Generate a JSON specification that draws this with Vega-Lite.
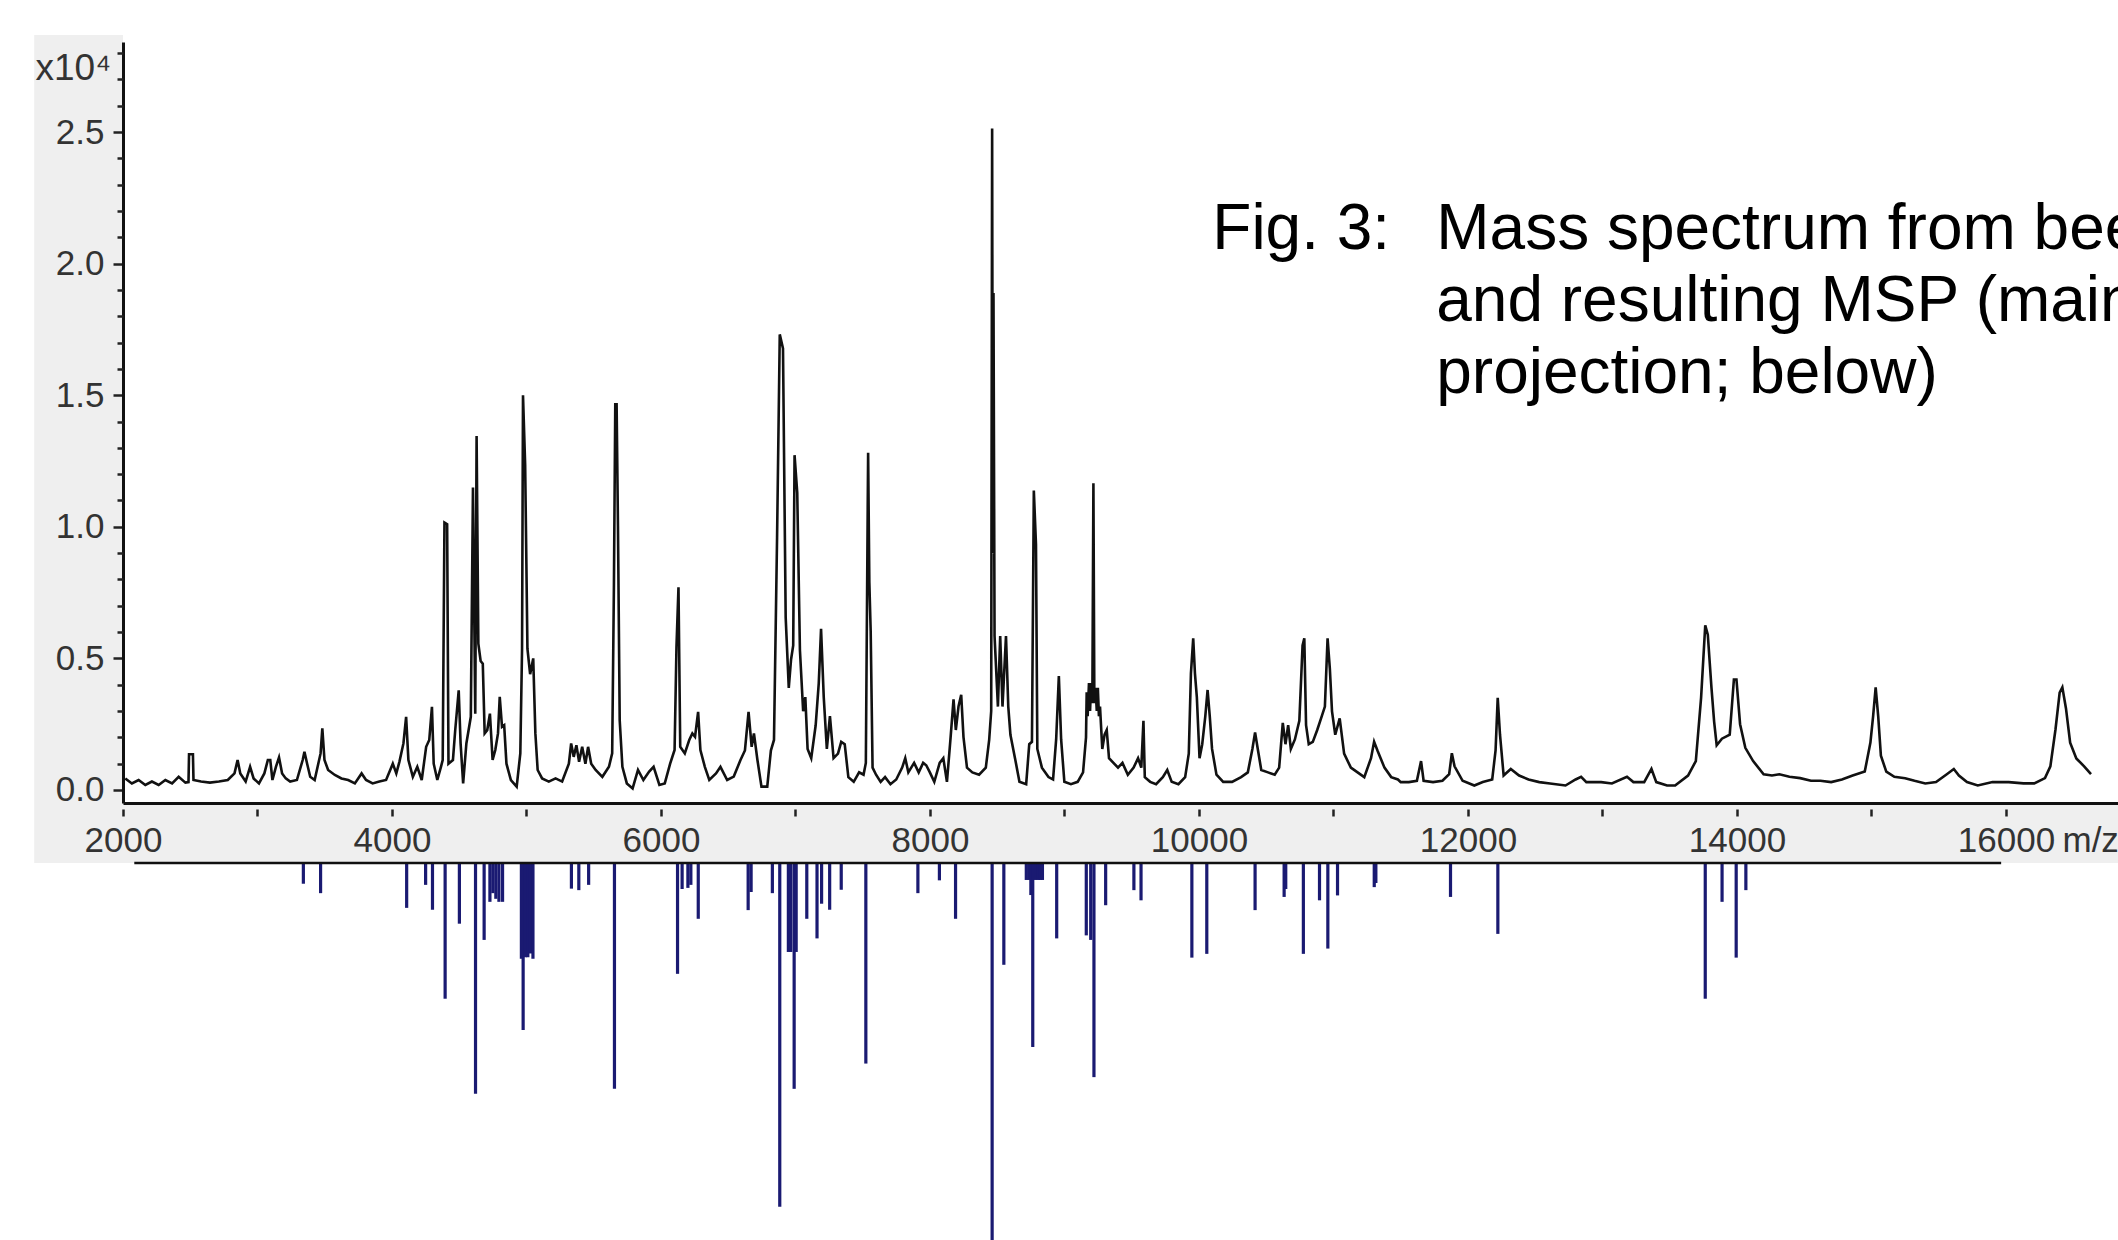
{
 "$schema": "https://vega.github.io/schema/vega-lite/v6.json",
 "usermeta": {"embedOptions": {"actions": false}},
 "background": "white",
 "padding": {"left": 34, "top": 35, "right": 0, "bottom": 0},
 "bounds": "flush",
 "spacing": 60,
 "config": {"view": {"stroke": null}, "font": "Liberation Sans"},
 "datasets": {
  "spectrum": [
   {"mz":2017,"intensity":0.044},{"mz":2066,"intensity":0.025},{"mz":2116,"intensity":0.038},{"mz":2166,"intensity":0.019},{"mz":2215,"intensity":0.032},{"mz":2265,"intensity":0.019},{"mz":2315,"intensity":0.038},{"mz":2365,"intensity":0.025},{"mz":2414,"intensity":0.05},{"mz":2464,"intensity":0.028},{"mz":2487,"intensity":0.03},{"mz":2491,"intensity":0.136},{"mz":2520,"intensity":0.136},{"mz":2524,"intensity":0.038},{"mz":2580,"intensity":0.032},{"mz":2646,"intensity":0.028},{"mz":2713,"intensity":0.032},{"mz":2779,"intensity":0.038},{"mz":2829,"intensity":0.063},{"mz":2852,"intensity":0.114},{"mz":2872,"intensity":0.063},{"mz":2912,"intensity":0.032},{"mz":2945,"intensity":0.088},{"mz":2971,"intensity":0.044},{"mz":3011,"intensity":0.025},{"mz":3051,"intensity":0.063},{"mz":3077,"intensity":0.114},{"mz":3095,"intensity":0.114},{"mz":3111,"intensity":0.038},{"mz":3137,"intensity":0.088},{"mz":3160,"intensity":0.124},{"mz":3183,"intensity":0.063},{"mz":3210,"intensity":0.044},{"mz":3243,"intensity":0.032},{"mz":3293,"intensity":0.038},{"mz":3336,"intensity":0.114},{"mz":3349,"intensity":0.145},{"mz":3369,"intensity":0.1},{"mz":3392,"intensity":0.05},{"mz":3425,"intensity":0.038},{"mz":3469,"intensity":0.139},{"mz":3482,"intensity":0.234},{"mz":3498,"intensity":0.114},{"mz":3525,"intensity":0.076},{"mz":3575,"intensity":0.057},{"mz":3624,"intensity":0.044},{"mz":3674,"intensity":0.038},{"mz":3724,"intensity":0.025},{"mz":3774,"intensity":0.063},{"mz":3807,"intensity":0.038},{"mz":3856,"intensity":0.025},{"mz":3906,"intensity":0.032},{"mz":3956,"intensity":0.038},{"mz":4006,"intensity":0.1},{"mz":4032,"intensity":0.063},{"mz":4055,"intensity":0.107},{"mz":4085,"intensity":0.177},{"mz":4105,"intensity":0.278},{"mz":4122,"intensity":0.114},{"mz":4155,"intensity":0.05},{"mz":4188,"intensity":0.088},{"mz":4221,"intensity":0.038},{"mz":4254,"intensity":0.164},{"mz":4277,"intensity":0.19},{"mz":4297,"intensity":0.316},{"mz":4310,"intensity":0.1},{"mz":4337,"intensity":0.038},{"mz":4364,"intensity":0.088},{"mz":4377,"intensity":0.114},{"mz":4390,"intensity":1.016},{"mz":4410,"intensity":1.01},{"mz":4420,"intensity":0.1},{"mz":4453,"intensity":0.114},{"mz":4470,"intensity":0.227},{"mz":4496,"intensity":0.379},{"mz":4510,"intensity":0.177},{"mz":4529,"intensity":0.025},{"mz":4553,"intensity":0.177},{"mz":4586,"intensity":0.278},{"mz":4602,"intensity":1.149},{"mz":4619,"intensity":0.29},{"mz":4629,"intensity":1.345},{"mz":4642,"intensity":0.556},{"mz":4659,"intensity":0.49},{"mz":4675,"intensity":0.48},{"mz":4689,"intensity":0.215},{"mz":4708,"intensity":0.227},{"mz":4728,"intensity":0.29},{"mz":4748,"intensity":0.114},{"mz":4768,"intensity":0.152},{"mz":4788,"intensity":0.215},{"mz":4801,"intensity":0.354},{"mz":4818,"intensity":0.24},{"mz":4834,"intensity":0.246},{"mz":4851,"intensity":0.1},{"mz":4884,"intensity":0.038},{"mz":4927,"intensity":0.013},{"mz":4954,"intensity":0.139},{"mz":4967,"intensity":0.537},{"mz":4974,"intensity":1.5},{"mz":4990,"intensity":1.237},{"mz":5007,"intensity":0.537},{"mz":5027,"intensity":0.44},{"mz":5050,"intensity":0.5},{"mz":5066,"intensity":0.215},{"mz":5083,"intensity":0.076},{"mz":5116,"intensity":0.044},{"mz":5166,"intensity":0.032},{"mz":5216,"intensity":0.044},{"mz":5265,"intensity":0.032},{"mz":5315,"intensity":0.1},{"mz":5332,"intensity":0.177},{"mz":5351,"intensity":0.126},{"mz":5371,"intensity":0.17},{"mz":5391,"intensity":0.107},{"mz":5414,"intensity":0.164},{"mz":5438,"intensity":0.1},{"mz":5458,"intensity":0.164},{"mz":5481,"intensity":0.1},{"mz":5514,"intensity":0.076},{"mz":5564,"intensity":0.05},{"mz":5613,"intensity":0.088},{"mz":5637,"intensity":0.139},{"mz":5650,"intensity":0.776},{"mz":5660,"intensity":1.465},{"mz":5670,"intensity":1.465},{"mz":5680,"intensity":1.004},{"mz":5693,"intensity":0.265},{"mz":5713,"intensity":0.088},{"mz":5746,"intensity":0.025},{"mz":5789,"intensity":0.006},{"mz":5829,"intensity":0.076},{"mz":5869,"intensity":0.038},{"mz":5912,"intensity":0.07},{"mz":5945,"intensity":0.088},{"mz":5988,"intensity":0.019},{"mz":6028,"intensity":0.025},{"mz":6068,"intensity":0.1},{"mz":6101,"intensity":0.152},{"mz":6115,"intensity":0.543},{"mz":6130,"intensity":0.77},{"mz":6143,"intensity":0.164},{"mz":6177,"intensity":0.139},{"mz":6210,"intensity":0.19},{"mz":6233,"intensity":0.215},{"mz":6253,"intensity":0.202},{"mz":6276,"intensity":0.297},{"mz":6293,"intensity":0.152},{"mz":6326,"intensity":0.088},{"mz":6359,"intensity":0.038},{"mz":6409,"intensity":0.063},{"mz":6442,"intensity":0.088},{"mz":6492,"intensity":0.038},{"mz":6541,"intensity":0.051},{"mz":6591,"intensity":0.114},{"mz":6624,"intensity":0.15},{"mz":6651,"intensity":0.297},{"mz":6674,"intensity":0.164},{"mz":6691,"intensity":0.215},{"mz":6717,"intensity":0.114},{"mz":6747,"intensity":0.013},{"mz":6790,"intensity":0.013},{"mz":6817,"intensity":0.15},{"mz":6840,"intensity":0.19},{"mz":6863,"intensity":0.96},{"mz":6883,"intensity":1.731},
   {"mz":6907,"intensity":1.678},{"mz":6927,"intensity":0.656},{"mz":6950,"intensity":0.388},{"mz":6967,"intensity":0.496},{"mz":6983,"intensity":0.549},{"mz":6993,"intensity":1.272},{"mz":7013,"intensity":1.129},{"mz":7033,"intensity":0.531},{"mz":7057,"intensity":0.299},{"mz":7073,"intensity":0.353},{"mz":7090,"intensity":0.156},{"mz":7117,"intensity":0.121},{"mz":7150,"intensity":0.246},{"mz":7173,"intensity":0.406},{"mz":7190,"intensity":0.612},{"mz":7210,"intensity":0.353},{"mz":7233,"intensity":0.156},{"mz":7256,"intensity":0.281},{"mz":7283,"intensity":0.121},{"mz":7316,"intensity":0.138},{"mz":7340,"intensity":0.183},{"mz":7366,"intensity":0.174},{"mz":7393,"intensity":0.049},{"mz":7433,"intensity":0.031},{"mz":7473,"intensity":0.067},{"mz":7506,"intensity":0.058},{"mz":7523,"intensity":0.103},{"mz":7533,"intensity":0.799},{"mz":7540,"intensity":1.281},{"mz":7549,"intensity":0.79},{"mz":7559,"intensity":0.603},{"mz":7573,"intensity":0.085},{"mz":7599,"intensity":0.058},{"mz":7633,"intensity":0.031},{"mz":7666,"intensity":0.049},{"mz":7706,"intensity":0.022},{"mz":7749,"intensity":0.04},{"mz":7793,"intensity":0.085},{"mz":7816,"intensity":0.121},{"mz":7839,"intensity":0.067},{"mz":7882,"intensity":0.103},{"mz":7916,"intensity":0.067},{"mz":7949,"intensity":0.103},{"mz":7972,"intensity":0.094},{"mz":7999,"intensity":0.067},{"mz":8032,"intensity":0.031},{"mz":8072,"intensity":0.103},{"mz":8099,"intensity":0.121},{"mz":8126,"intensity":0.031},{"mz":8152,"intensity":0.192},{"mz":8175,"intensity":0.344},{"mz":8192,"intensity":0.228},{"mz":8212,"intensity":0.317},{"mz":8232,"intensity":0.362},{"mz":8249,"intensity":0.201},{"mz":8275,"intensity":0.085},{"mz":8315,"intensity":0.067},{"mz":8365,"intensity":0.058},{"mz":8415,"intensity":0.085},{"mz":8440,"intensity":0.19},{"mz":8455,"intensity":0.3},{"mz":8462,"intensity":2.513},{"mz":8467,"intensity":0.9},{"mz":8472,"intensity":1.888},{"mz":8480,"intensity":0.585},{"mz":8505,"intensity":0.317},{"mz":8522,"intensity":0.585},{"mz":8539,"intensity":0.317},{"mz":8565,"intensity":0.585},{"mz":8582,"intensity":0.317},{"mz":8598,"intensity":0.21},{"mz":8632,"intensity":0.121},{"mz":8665,"intensity":0.031},{"mz":8715,"intensity":0.022},{"mz":8738,"intensity":0.174},{"mz":8758,"intensity":0.183},{"mz":8772,"intensity":1.138},{"mz":8788,"intensity":0.933},{"mz":8798,"intensity":0.156},{"mz":8832,"intensity":0.085},{"mz":8881,"intensity":0.049},{"mz":8915,"intensity":0.04},{"mz":8938,"intensity":0.192},{"mz":8958,"intensity":0.433},{"mz":8975,"intensity":0.192},{"mz":8999,"intensity":0.031},{"mz":9048,"intensity":0.022},{"mz":9098,"intensity":0.031},{"mz":9138,"intensity":0.067},{"mz":9160,"intensity":0.2},{"mz":9165,"intensity":0.371},{"mz":9172,"intensity":0.28},{"mz":9182,"intensity":0.406},{"mz":9190,"intensity":0.3},{"mz":9198,"intensity":0.406},{"mz":9207,"intensity":0.33},{"mz":9215,"intensity":1.165},{"mz":9222,"intensity":0.33},{"mz":9231,"intensity":0.388},{"mz":9240,"intensity":0.3},{"mz":9248,"intensity":0.388},{"mz":9256,"intensity":0.28},{"mz":9264,"intensity":0.317},{"mz":9281,"intensity":0.156},{"mz":9298,"intensity":0.21},{"mz":9314,"intensity":0.228},{"mz":9331,"intensity":0.121},{"mz":9364,"intensity":0.103},{"mz":9398,"intensity":0.085},{"mz":9431,"intensity":0.103},{"mz":9471,"intensity":0.058},{"mz":9514,"intensity":0.085},{"mz":9547,"intensity":0.121},{"mz":9571,"intensity":0.085},{"mz":9587,"intensity":0.263},{"mz":9597,"intensity":0.049},{"mz":9637,"intensity":0.031},{"mz":9681,"intensity":0.022},{"mz":9731,"intensity":0.049},{"mz":9764,"intensity":0.076},{"mz":9797,"intensity":0.031},{"mz":9847,"intensity":0.022},{"mz":9897,"intensity":0.049},{"mz":9924,"intensity":0.138},{"mz":9940,"intensity":0.442},{"mz":9957,"intensity":0.576},{"mz":9970,"intensity":0.442},{"mz":9984,"intensity":0.353},{"mz":10004,"intensity":0.121},{"mz":10024,"intensity":0.174},{"mz":10047,"intensity":0.281},{"mz":10064,"intensity":0.38},{"mz":10080,"intensity":0.281},{"mz":10097,"intensity":0.156},{"mz":10130,"intensity":0.058},{"mz":10180,"intensity":0.031},{"mz":10246,"intensity":0.031},{"mz":10313,"intensity":0.049},{"mz":10363,"intensity":0.067},{"mz":10397,"intensity":0.156},{"mz":10417,"intensity":0.219},{"mz":10437,"intensity":0.156},{"mz":10463,"intensity":0.076},{"mz":10513,"intensity":0.067},{"mz":10563,"intensity":0.058},{"mz":10596,"intensity":0.085},{"mz":10623,"intensity":0.255},{"mz":10643,"intensity":0.174},{"mz":10663,"intensity":0.246},{"mz":10683,"intensity":0.156},{"mz":10713,"intensity":0.192},{"mz":10746,"intensity":0.263},{"mz":10770,"intensity":0.549},{"mz":10783,"intensity":0.576},{"mz":10796,"intensity":0.246},{"mz":10816,"intensity":0.174},{"mz":10846,"intensity":0.183},{"mz":10879,"intensity":0.228},{"mz":10913,"intensity":0.281},{"mz":10936,"intensity":0.317},{"mz":10956,"intensity":0.576},{"mz":10973,"intensity":0.46},{"mz":10989,"intensity":0.299},{"mz":11013,"intensity":0.21},{"mz":11046,"intensity":0.272},{"mz":11079,"intensity":0.138},{"mz":11129,"intensity":0.085},{"mz":11179,"intensity":0.067},{"mz":11229,"intensity":0.049},{"mz":11279,"intensity":0.121},{"mz":11302,"intensity":0.183},{"mz":11329,"intensity":0.147},{"mz":11379,"intensity":0.085},{"mz":11429,"intensity":0.049},{"mz":11479,"intensity":0.04},
   {"mz":11500,"intensity":0.03},{"mz":11560,"intensity":0.03},{"mz":11620,"intensity":0.035},{"mz":11651,"intensity":0.11},{"mz":11670,"intensity":0.035},{"mz":11740,"intensity":0.03},{"mz":11810,"intensity":0.035},{"mz":11860,"intensity":0.06},{"mz":11880,"intensity":0.14},{"mz":11900,"intensity":0.09},{"mz":11960,"intensity":0.035},{"mz":12047,"intensity":0.017},{"mz":12110,"intensity":0.03},{"mz":12180,"intensity":0.04},{"mz":12205,"intensity":0.15},{"mz":12221,"intensity":0.35},{"mz":12238,"intensity":0.21},{"mz":12265,"intensity":0.055},{"mz":12318,"intensity":0.08},{"mz":12380,"intensity":0.055},{"mz":12450,"intensity":0.04},{"mz":12530,"intensity":0.03},{"mz":12610,"intensity":0.025},{"mz":12725,"intensity":0.017},{"mz":12800,"intensity":0.04},{"mz":12841,"intensity":0.05},{"mz":12880,"intensity":0.03},{"mz":12990,"intensity":0.03},{"mz":13070,"intensity":0.025},{"mz":13182,"intensity":0.05},{"mz":13230,"intensity":0.03},{"mz":13310,"intensity":0.03},{"mz":13364,"intensity":0.08},{"mz":13400,"intensity":0.03},{"mz":13480,"intensity":0.017},{"mz":13540,"intensity":0.017},{"mz":13636,"intensity":0.055},{"mz":13694,"intensity":0.11},{"mz":13733,"intensity":0.35},{"mz":13764,"intensity":0.626},{"mz":13783,"intensity":0.59},{"mz":13810,"intensity":0.39},{"mz":13830,"intensity":0.26},{"mz":13849,"intensity":0.17},{"mz":13888,"intensity":0.195},{"mz":13946,"intensity":0.21},{"mz":13977,"intensity":0.42},{"mz":13996,"intensity":0.42},{"mz":14023,"intensity":0.25},{"mz":14062,"intensity":0.16},{"mz":14120,"intensity":0.11},{"mz":14198,"intensity":0.06},{"mz":14260,"intensity":0.055},{"mz":14315,"intensity":0.06},{"mz":14390,"intensity":0.05},{"mz":14470,"intensity":0.045},{"mz":14550,"intensity":0.035},{"mz":14620,"intensity":0.035},{"mz":14700,"intensity":0.03},{"mz":14780,"intensity":0.04},{"mz":14860,"intensity":0.055},{"mz":14950,"intensity":0.07},{"mz":14992,"intensity":0.18},{"mz":15012,"intensity":0.28},{"mz":15031,"intensity":0.39},{"mz":15050,"intensity":0.28},{"mz":15070,"intensity":0.13},{"mz":15110,"intensity":0.07},{"mz":15170,"intensity":0.05},{"mz":15250,"intensity":0.045},{"mz":15320,"intensity":0.035},{"mz":15400,"intensity":0.025},{"mz":15480,"intensity":0.03},{"mz":15560,"intensity":0.06},{"mz":15612,"intensity":0.08},{"mz":15650,"intensity":0.055},{"mz":15710,"intensity":0.03},{"mz":15790,"intensity":0.017},{"mz":15900,"intensity":0.03},{"mz":16020,"intensity":0.03},{"mz":16130,"intensity":0.025},{"mz":16210,"intensity":0.025},{"mz":16290,"intensity":0.045},{"mz":16330,"intensity":0.09},{"mz":16368,"intensity":0.23},{"mz":16399,"intensity":0.37},{"mz":16419,"intensity":0.39},{"mz":16446,"intensity":0.31},{"mz":16477,"intensity":0.18},{"mz":16523,"intensity":0.12},{"mz":16581,"intensity":0.09},{"mz":16632,"intensity":0.06}
  ],
  "msp": [
   {"mz":3341,"rel":0.055},{"mz":3469,"rel":0.08},{"mz":4109,"rel":0.119},{"mz":4250,"rel":0.058},{"mz":4301,"rel":0.124},{"mz":4395,"rel":0.36},{"mz":4501,"rel":0.161},{"mz":4621,"rel":0.612},{"mz":4685,"rel":0.204},{"mz":4728,"rel":0.103},{"mz":4750,"rel":0.08},{"mz":4772,"rel":0.095},{"mz":4795,"rel":0.103},{"mz":4822,"rel":0.103},{"mz":4962,"rel":0.254},{"mz":4975,"rel":0.443},{"mz":4992,"rel":0.25},{"mz":5010,"rel":0.25},{"mz":5030,"rel":0.24},{"mz":5048,"rel":0.254},{"mz":5334,"rel":0.068},{"mz":5389,"rel":0.072},{"mz":5462,"rel":0.058},{"mz":5654,"rel":0.599},{"mz":6123,"rel":0.294},{"mz":6157,"rel":0.069},{"mz":6200,"rel":0.066},{"mz":6222,"rel":0.058},{"mz":6277,"rel":0.148},{"mz":6648,"rel":0.125},{"mz":6670,"rel":0.077},{"mz":6828,"rel":0.08},{"mz":6883,"rel":0.912},{"mz":6947,"rel":0.236},{"mz":6965,"rel":0.236},{"mz":6990,"rel":0.599},{"mz":7005,"rel":0.236},{"mz":7084,"rel":0.148},{"mz":7160,"rel":0.2},{"mz":7194,"rel":0.108},{"mz":7254,"rel":0.124},{"mz":7340,"rel":0.071},{"mz":7523,"rel":0.532},{"mz":7910,"rel":0.08},{"mz":8070,"rel":0.046},{"mz":8190,"rel":0.148},{"mz":8462,"rel":1.0},{"mz":8549,"rel":0.27},{"mz":8716,"rel":0.045},{"mz":8735,"rel":0.045},{"mz":8750,"rel":0.085},{"mz":8764,"rel":0.488},{"mz":8785,"rel":0.045},{"mz":8805,"rel":0.045},{"mz":8820,"rel":0.045},{"mz":8836,"rel":0.045},{"mz":8942,"rel":0.2},{"mz":9162,"rel":0.192},{"mz":9195,"rel":0.204},{"mz":9219,"rel":0.568},{"mz":9306,"rel":0.112},{"mz":9516,"rel":0.072},{"mz":9569,"rel":0.099},{"mz":9947,"rel":0.251},{"mz":10058,"rel":0.241},{"mz":10417,"rel":0.125},{"mz":10633,"rel":0.09},{"mz":10645,"rel":0.069},{"mz":10776,"rel":0.241},{"mz":10896,"rel":0.099},{"mz":10958,"rel":0.227},{"mz":11030,"rel":0.086},{"mz":11303,"rel":0.064},{"mz":11315,"rel":0.053},{"mz":11870,"rel":0.09},{"mz":12222,"rel":0.188},{"mz":13764,"rel":0.36},{"mz":13889,"rel":0.103},{"mz":13994,"rel":0.251},{"mz":14066,"rel":0.072}
  ]
 },
 "vconcat": [
  {
   "width": 1995.3,
   "height": 761,
   "view": {"fill": "white", "stroke": null},
   "resolve": {"axis": {"x": "independent", "y": "independent"}},
   "layer": [
    {
     "data": {"values": [{}]},
     "mark": {"type": "rect", "fill": "#efefef"},
     "encoding": {
      "x": {"datum": 1340, "type": "quantitative", "scale": {"domain": [2000, 16835], "nice": false, "zero": false}, "axis": null},
      "x2": {"datum": 2000},
      "y": {"datum": -0.2774, "type": "quantitative", "scale": {"domain": [-0.0494, 2.842], "nice": false, "zero": false}, "axis": null},
      "y2": {"datum": 2.8685}
     }
    },
    {
     "data": {"values": [{}]},
     "mark": {"type": "rect", "fill": "#efefef"},
     "encoding": {
      "x": {"datum": 2000, "type": "quantitative", "scale": {"domain": [2000, 16835], "nice": false, "zero": false}, "axis": null},
      "x2": {"datum": 16835},
      "y": {"datum": -0.2774, "type": "quantitative", "scale": {"domain": [-0.0494, 2.842], "nice": false, "zero": false}, "axis": null},
      "y2": {"datum": -0.0494}
     }
    },
    {
     "data": {"name": "spectrum"},
     "mark": {"type": "line", "color": "#111111", "strokeWidth": 2.6},
     "encoding": {
      "x": {
       "field": "mz", "type": "quantitative",
       "scale": {"domain": [2000, 16835], "nice": false, "zero": false},
       "axis": {
        "orient": "bottom", "values": [2000,3000,4000,5000,6000,7000,8000,9000,10000,11000,12000,13000,14000,15000,16000],
        "offset": 6, "domain": false, "grid": false,
        "tickSize": 7, "tickWidth": 2.5, "tickColor": "#222222",
        "labelExpr": "datum.value % 2000 === 0 ? format(datum.value, 'd') : ''",
        "labelFontSize": 35, "labelColor": "#333333", "labelPadding": 8, "labelOverlap": false, "labelFlush": false,
        "title": "m/z", "titleFontSize": 35, "titleFontWeight": "normal", "titleColor": "#333333",
        "titleX": 1939, "titleY": 43, "titleAlign": "left", "titleBaseline": "alphabetic",
        "zindex": 1
       }
      },
      "y": {
       "field": "intensity", "type": "quantitative",
       "scale": {"domain": [-0.0494, 2.842], "nice": false, "zero": false},
       "axis": {
        "orient": "left", "values": [0, 0.5, 1, 1.5, 2, 2.5],
        "domain": true, "domainColor": "#111111", "domainWidth": 3, "grid": false,
        "tickSize": 10, "tickWidth": 2.5, "tickColor": "#222222",
        "format": ".1f", "labelFontSize": 35, "labelColor": "#333333", "labelPadding": 9, "labelOverlap": false,
        "title": "x10⁴", "titleAngle": 0, "titleX": -88, "titleY": 37, "titleAlign": "left", "titleBaseline": "alphabetic",
        "titleFontSize": 37, "titleFontWeight": "normal", "titleColor": "#333333",
        "zindex": 1
       }
      }
     }
    },
    {
     "data": {"values": [{}]},
     "mark": {"type": "text", "text": "Fig. 3:", "fontSize": 64, "align": "left", "baseline": "alphabetic", "color": "#000000"},
     "encoding": {
      "x": {"datum": 10099, "type": "quantitative", "scale": {"domain": [2000, 16835], "nice": false, "zero": false},
       "axis": {"orient": "bottom", "domain": true, "domainColor": "#111111", "domainWidth": 3, "ticks": false, "labels": false, "grid": false, "title": null, "zindex": 1}},
      "y": {"datum": 2.0555, "type": "quantitative", "scale": {"domain": [-0.0494, 2.842], "nice": false, "zero": false},
       "axis": {"orient": "left", "values": [0.1,0.2,0.3,0.4,0.6,0.7,0.8,0.9,1.1,1.2,1.3,1.4,1.6,1.7,1.8,1.9,2.1,2.2,2.3,2.4,2.6,2.7,2.8], "domain": false, "tickSize": 6, "tickWidth": 2.5, "tickColor": "#222222", "labels": false, "grid": false, "title": null, "zindex": 1}}
     }
    },
    {
     "data": {"values": [{}]},
     "mark": {"type": "text", "text": ["Mass spectrum from bee", "and resulting MSP (main", "projection; below)"], "lineHeight": 72, "fontSize": 64, "align": "left", "baseline": "alphabetic", "color": "#000000"},
     "encoding": {
      "x": {"datum": 11764, "type": "quantitative", "scale": {"domain": [2000, 16835], "nice": false, "zero": false}, "axis": null},
      "y": {"datum": 2.0555, "type": "quantitative", "scale": {"domain": [-0.0494, 2.842], "nice": false, "zero": false}, "axis": null}
     }
    }
   ]
  },
  {
   "width": 1995.3,
   "height": 377,
   "view": {"fill": "white", "stroke": null},
   "layer": [
    {
     "data": {"name": "msp"},
     "mark": {"type": "rule", "color": "#1a1a72", "strokeWidth": 3.2},
     "encoding": {
      "x": {"field": "mz", "type": "quantitative", "scale": {"domain": [2000, 16835], "nice": false, "zero": false}, "axis": null},
      "y": {"field": "rel", "type": "quantitative", "scale": {"domain": [0, 1], "nice": false, "reverse": true}, "axis": null},
      "y2": {"datum": 0}
     }
    },
    {
     "data": {"values": [{}]},
     "mark": {"type": "rule", "color": "#111111", "strokeWidth": 2.5},
     "encoding": {
      "x": {"datum": 2084, "type": "quantitative", "scale": {"domain": [2000, 16835], "nice": false, "zero": false}, "axis": null},
      "x2": {"datum": 15964},
      "y": {"datum": 0, "type": "quantitative", "scale": {"domain": [0, 1], "nice": false, "reverse": true}, "axis": null}
     }
    }
   ]
  }
 ]
}
